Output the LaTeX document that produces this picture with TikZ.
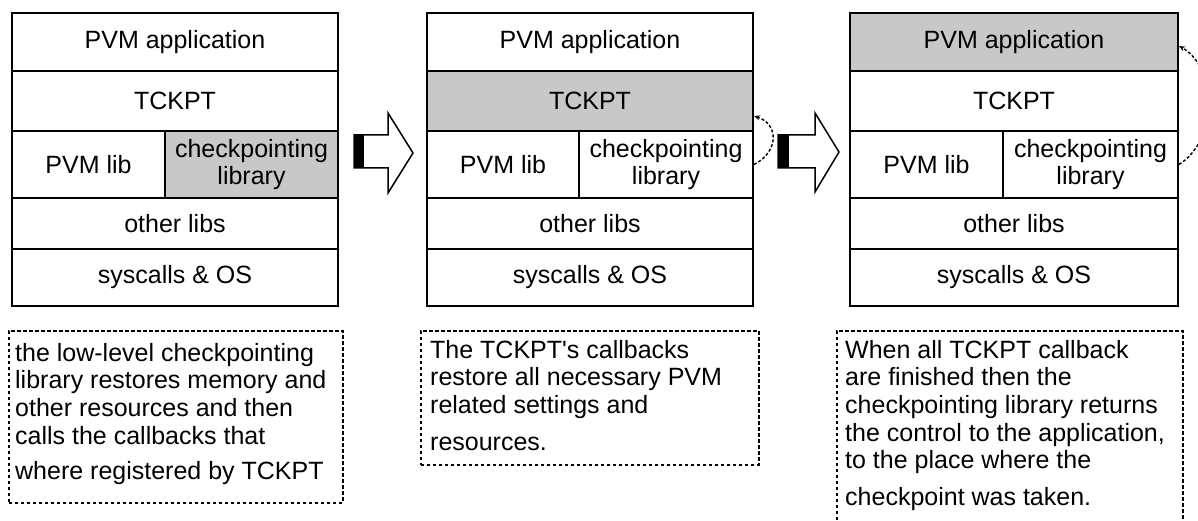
\documentclass[tikz,border=0pt]{standalone}
\usepackage{fontspec}
\setmainfont[Ligatures=TeXOff]{Liberation Sans}
\usetikzlibrary{arrows.meta,calc}
\definecolor{shade}{RGB}{200,200,200}
\begin{document}
\begin{tikzpicture}[x=1pt,y=-1pt,
  cell/.style={draw=black, line width=2pt, anchor=north west, inner sep=0pt,
    font=\fontsize{25}{27}\selectfont, align=center},
  hot/.style={cell, fill=shade},
  note/.style={draw=black, line width=1.8pt, dash pattern=on 3.5pt off 2.5pt,
    anchor=north west, inner sep=0pt},
  notetext/.style={anchor=north west, inner sep=0pt, align=left,
    font=\fontsize{25}{27.6}\selectfont},
  blockarrow/.style={draw=black, fill=white, line width=1.5pt, line join=miter},
  callback/.style={draw=black, line width=1.4pt, dash pattern=on 3pt off 2pt,
    -{Stealth[length=6pt,width=5pt]}}
]
\clip (0,0) rectangle (1198,521);
\fill[white] (0,0) rectangle (1198,521);

% ---- stage 1: checkpointing library active
\node[cell, minimum width=326pt, minimum height=58pt] (s1app) at (11,12) {PVM application};
\node[cell, minimum width=326pt, minimum height=60pt] (s1tck) at (11,70) {TCKPT};
\node[cell, minimum width=153pt, minimum height=67pt] (s1pvm) at (11,130) {PVM lib};
\node[hot,  minimum width=173pt, minimum height=67pt] (s1ckl) at (164,130) {checkpointing\\library};
\node[cell, minimum width=326pt, minimum height=51pt] (s1oth) at (11,197) {other libs};
\node[cell, minimum width=326pt, minimum height=57pt] (s1sys) at (11,248) {syscalls \& OS};

% ---- stage 2: TCKPT callbacks active
\node[cell, minimum width=326pt, minimum height=58pt] (s2app) at (426,12) {PVM application};
\node[hot,  minimum width=326pt, minimum height=60pt] (s2tck) at (426,70) {TCKPT};
\node[cell, minimum width=152pt, minimum height=67pt] (s2pvm) at (426,130) {PVM lib};
\node[cell, minimum width=174pt, minimum height=67pt] (s2ckl) at (578,130) {checkpointing\\library};
\node[cell, minimum width=326pt, minimum height=51pt] (s2oth) at (426,197) {other libs};
\node[cell, minimum width=326pt, minimum height=57pt] (s2sys) at (426,248) {syscalls \& OS};

% ---- stage 3: control back to the application
\node[hot,  minimum width=328pt, minimum height=58pt] (s3app) at (849,12) {PVM application};
\node[cell, minimum width=328pt, minimum height=60pt] (s3tck) at (849,70) {TCKPT};
\node[cell, minimum width=153pt, minimum height=67pt] (s3pvm) at (849,130) {PVM lib};
\node[cell, minimum width=175pt, minimum height=67pt] (s3ckl) at (1002,130) {checkpointing\\library};
\node[cell, minimum width=328pt, minimum height=51pt] (s3oth) at (849,197) {other libs};
\node[cell, minimum width=328pt, minimum height=57pt] (s3sys) at (849,248) {syscalls \& OS};

% ---- block arrows between the stages
\draw[blockarrow] (354,135) -- (388,135) -- (388,113) -- (413,153) -- (388,193)
  -- (388,168) -- (354,168) -- cycle;
\fill[black] (354,135) rectangle (364,168);
\draw[blockarrow] (778,135) -- (815,135) -- (815,113) -- (839,152) -- (815,192)
  -- (815,168) -- (778,168) -- cycle;
\fill[black] (778,135) rectangle (789,168);

% ---- callback arrows
\draw[callback] (s2ckl.east) .. controls (779,152) and (779,124) .. ($(s2tck.east)+(0,15)$);
\draw[callback] (s3ckl.east) .. controls (1218,140) and (1218,68) .. ($(s3app.east)+(0,4)$);

% ---- explanations
\node[note, minimum width=334pt, minimum height=172pt] (n1) at (8,330) {};
\node[notetext] (t1) at (15,343) {the low-level checkpointing\\library restores memory and\\other resources and then\\calls the callbacks that\\[8pt]where registered by TCKPT};

\node[note, minimum width=338pt, minimum height=134pt] (n2) at (420,330) {};
\node[notetext] (t2) at (430,340) {The TCKPT's callbacks\\restore all necessary PVM\\related settings and\\[9pt]resources.};

\node[note, minimum width=346pt, minimum height=220pt] (n3) at (836,330) {};
\node[notetext] (t3) at (845,340) {When all TCKPT callback\\are finished then the\\checkpointing library returns\\the control to the application,\\to the place where the\\[9pt]checkpoint was taken.};
\end{tikzpicture}
\end{document}
